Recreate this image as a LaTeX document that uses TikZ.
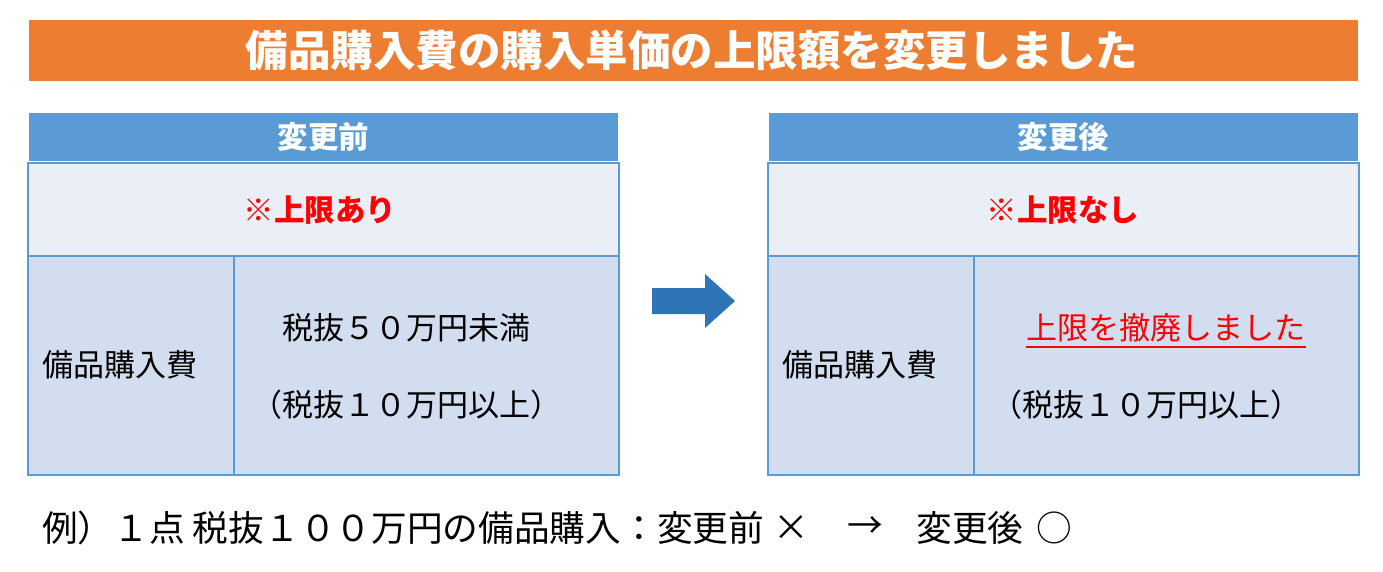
\documentclass[tikz,border=0pt]{standalone}
\usepackage{fontspec}
\setmainfont{Noto Sans CJK JP}
\definecolor{orangeC}{HTML}{ED7D31}
\definecolor{hdrC}{HTML}{5B9BD5}
\definecolor{lineC}{HTML}{5B9BD5}
\definecolor{rowA}{HTML}{E9EEF7}
\definecolor{rowB}{HTML}{D2DEEF}
\definecolor{arrowC}{HTML}{2E75B6}
\definecolor{redC}{HTML}{FF0000}
\newcommand{\fsTitle}{\fontsize{42.5}{50}\selectfont\bfseries}
\newcommand{\fsHead}{\fontsize{30.5}{36}\selectfont\bfseries}
\newcommand{\fsCell}{\fontsize{31}{36}\selectfont}
\newcommand{\fsFoot}{\fontsize{35.7}{42}\selectfont}
\tikzset{
  box/.style={inner sep=0pt, outer sep=0pt},
  banner/.style={box, fill=orangeC},
  hdr/.style={box, fill=hdrC, text=white, font=\fsHead},
  cellA/.style={box, fill=rowA, draw=lineC, line width=1.6pt},
  cellB/.style={box, fill=rowB, draw=lineC, line width=1.6pt},
  txt/.style={inner sep=0pt, font=\fsCell, text=black},
  redtxt/.style={inner sep=0pt, font=\fsHead, text=redC},
  foot/.style={inner sep=0pt, font=\fsFoot, text=black},
}
\begin{document}
\begin{tikzpicture}[x=1pt,y=-1pt]
\useasboundingbox (0,0) rectangle (1383,571);
\fill[white] (0,0) rectangle (1383,571);
% title banner
\node[banner, minimum width=1329pt, minimum height=61pt] (banner) at (693.5,50.5) {};
\node[inner sep=0pt, font=\fsTitle, text=white] (title) at (692,50) {備品購入費の購入単価の上限額を変更しました};
% left table
\node[hdr, minimum width=589pt, minimum height=48pt] (hL) at (323.5,137) {変更前};
\node[cellA, minimum width=591pt, minimum height=93pt] (tL) at (323.5,209.5) {};
\node[cellB, minimum width=206pt, minimum height=219pt] (blL) at (131,365.5) {};
\node[cellB, minimum width=385pt, minimum height=219pt] (brL) at (426.5,365.5) {};
\node[redtxt] (capL) at (320,210) {※上限あり};
\node[txt, anchor=west] (itemL) at (42,365) {備品購入費};
\node[txt] (valL1) at (406,328) {税抜５０万円未満};
\node[txt] (valL2) at (406,405) {（税抜１０万円以上）};
% arrow
\fill[arrowC] (652,288) -- (705,288) -- (705,274) -- (735,301) -- (705,328) -- (705,314) -- (652,314) -- cycle;
% right table
\node[hdr, minimum width=589pt, minimum height=48pt] (hR) at (1063.5,137) {変更後};
\node[cellA, minimum width=591pt, minimum height=93pt] (tR) at (1063.5,209.5) {};
\node[cellB, minimum width=206pt, minimum height=219pt] (blR) at (871,365.5) {};
\node[cellB, minimum width=385pt, minimum height=219pt] (brR) at (1166.5,365.5) {};
\node[redtxt] (capR) at (1063,210) {※上限なし};
\node[txt, anchor=west] (itemR) at (782,365) {備品購入費};
\node[txt, text=redC] (valR1) at (1166,328) {上限を撤廃しました};
\draw[redC, line width=1.8pt] ([yshift=-7pt]valR1.base west) -- ([yshift=-7pt]valR1.base east);
\node[txt] (valR2) at (1146,405) {（税抜１０万円以上）};
% footer
\node[foot, anchor=west] (f1) at (42,528) {例）１点 税抜１００万円の備品購入：変更前};
\node[foot] (f2) at (791,528) {×};
\node[foot] (f3) at (865,528) {→};
\node[foot] (f4) at (970,528) {変更後};
\node[foot] (f5) at (1054,528) {○};
\end{tikzpicture}
\end{document}
